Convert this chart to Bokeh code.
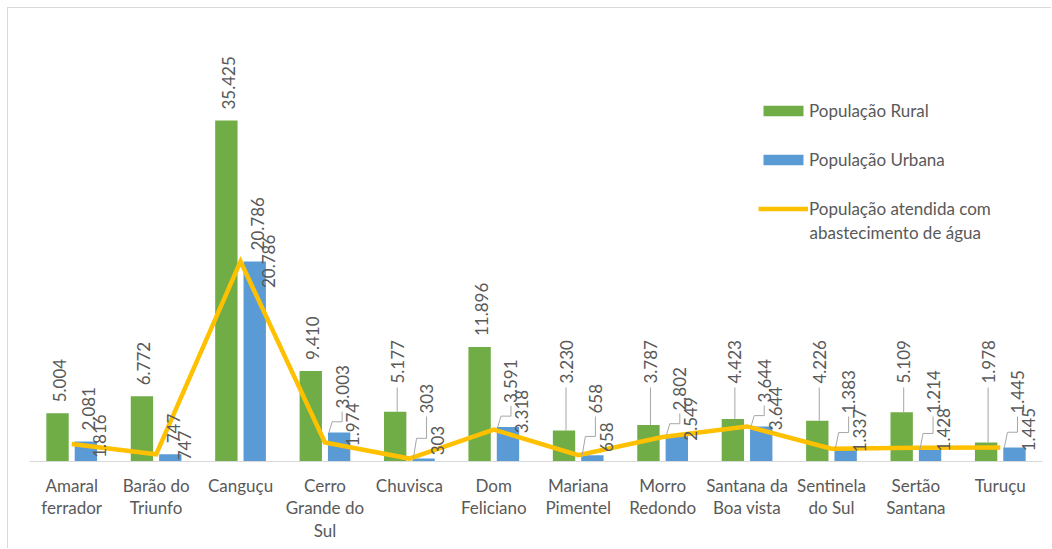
import math
from bokeh.plotting import figure
from bokeh.models import (Range1d, FixedTicker, CustomJSTickFormatter, Legend,
                          LegendItem, Label)
from bokeh.core.properties import value
from bokeh.embed import file_html
from bokeh.resources import INLINE

# ---------------- data ----------------
categories = ["Amaral\nferrador", "Barão do\nTriunfo", "Canguçu", "Cerro\nGrande do\nSul",
              "Chuvisca", "Dom\nFeliciano", "Mariana\nPimentel", "Morro\nRedondo",
              "Santana da\nBoa vista", "Sentinela\ndo Sul", "Sertão\nSantana", "Turuçu"]
rural = [5004, 6772, 35425, 9410, 5177, 11896, 3230, 3787, 4423, 4226, 5109, 1978]
urbana = [2081, 747, 20786, 3003, 303, 3591, 658, 2802, 3644, 1383, 1214, 1445]
atendida = [1816, 747, 20786, 1974, 303, 3318, 658, 2549, 3644, 1337, 1428, 1445]
series_names = ["População Rural", "População Urbana", "População atendida com",
                "abastecimento de água"]

# layout only: which groups have their data labels lifted away from the marks
label_raised = [False, False, False, True, True, True, True, True, True, True, True, True]

# ---------------- layout / style ----------------
OFF = 8                      # css offset of the chart box (border at 7px)
W, H = 1052 - OFF, 549 - OFF
LEFT, RIGHT, TOP, BOTTOM = 29 - OFF, 10, 20 - OFF, 88
FRAME_W = W - LEFT - RIGHT
FRAME_H = H - TOP - BOTTOM
PX_PER_UNIT = 0.009626
Y_MAX = FRAME_H / PX_PER_UNIT
N = len(categories)
CAT_PX = FRAME_W / N

GREEN, BLUE, YELLOW = "#70AD47", "#5B9BD5", "#FFC000"
TXT = "#595959"
LEADER = "#A6A6A6"
FONT = "Lato"
LBL_SIZE = 17
CHAR_PX = 0.55 * LBL_SIZE
DODGE = 0.168
BAR_W = 0.265


def px_x(px):
    return px / CAT_PX


def px_y(px):
    return px / PX_PER_UNIT


def fmt(v):
    return f"{v:,}".replace(",", ".")


centers = [i + 0.5 for i in range(N)]
x_rural = [c - DODGE for c in centers]
x_urb = [c + DODGE for c in centers]

p = figure(width=W, height=H, x_range=Range1d(0, N), y_range=Range1d(0, Y_MAX),
           output_backend="svg", toolbar_location=None, y_axis_location=None,
           min_border_left=LEFT, min_border_right=RIGHT,
           min_border_top=TOP, min_border_bottom=BOTTOM)
p.styles = {"margin-left": "7px", "margin-top": "7px",
            "border-left": "1px solid #D9D9D9", "border-top": "1px solid #D9D9D9"}
p.outline_line_color = None
p.xgrid.visible = False
p.ygrid.visible = False
p.background_fill_color = "white"
p.border_fill_color = "white"

ax = p.xaxis[0]
ax.ticker = FixedTicker(ticks=centers)
ax.formatter = CustomJSTickFormatter(args=dict(labels=categories),
                                     code="return labels[Math.round(tick - 0.5)];")
ax.axis_line_color = "#D9D9D9"
ax.axis_line_width = 1.2
ax.major_tick_line_color = None
ax.minor_tick_line_color = None
ax.major_label_standoff = 7
ax.major_label_text_font = FONT
ax.major_label_text_font_size = "17px"
ax.major_label_text_color = TXT
ax.major_label_text_line_height = 1.08

# bars + line
r_rural = p.vbar(x=x_rural, top=rural, width=BAR_W, fill_color=GREEN, line_color=None)
r_urb = p.vbar(x=x_urb, top=urbana, width=BAR_W, fill_color=BLUE, line_color=None)
r_line = p.line(x=centers, y=atendida, line_color=YELLOW, line_width=4.5, line_join="miter")

# ---------------- data labels ----------------
lbl_kw = dict(angle=math.pi / 2, text_font=value(FONT), text_font_size=value(f"{LBL_SIZE}px"),
              text_color=TXT, text_baseline="middle")

# rural labels
g_x, g_y, g_t = [], [], []
seg_x0, seg_y0, seg_x1, seg_y1 = [], [], [], []
for xr, v, up in zip(x_rural, rural, label_raised):
    lb = v + px_y(11)
    if up:
        lb = max(lb, px_y(78))
    lx = xr + px_x(2)
    g_x.append(lx); g_y.append(lb); g_t.append(fmt(v))
    if (lb - v) * PX_PER_UNIT > 18:
        seg_x0.append(lx); seg_y0.append(v); seg_x1.append(lx); seg_y1.append(lb - px_y(4))

# urban labels
u_x, u_y, u_t = [], [], []
ml_xs, ml_ys = [], []
for xu, v, up in zip(x_urb, urbana, label_raised):
    lb = v + px_y(11)
    if up:
        lb = max(v + px_y(24), px_y(48))
    lx = xu + px_x(3)
    u_x.append(lx); u_y.append(lb); u_t.append(fmt(v))
    if (lb - v) * PX_PER_UNIT > 20:
        ye = v + 0.45 * (lb - v)
        ml_xs.append([lx, lx, lx - px_x(10), xu - BAR_W / 2 + px_x(1)])
        ml_ys.append([lb - px_y(3), ye, ye, v])

# line labels (centred on the point, kept above the axis line)
l_x, l_y, l_t = [], [], []
for c, v, up in zip(centers, atendida, label_raised):
    lift = 18 if up else 0
    t = fmt(v)
    ctr = max(v + px_y(lift), px_y(len(t) * CHAR_PX / 2 + 2))
    l_x.append(c + px_x(28)); l_y.append(ctr); l_t.append(t)

p.segment(x0=seg_x0, y0=seg_y0, x1=seg_x1, y1=seg_y1, line_color=LEADER, line_width=1)
p.multi_line(xs=ml_xs, ys=ml_ys, line_color=LEADER, line_width=1)

p.text(x=g_x, y=g_y, text=g_t, text_align="left", **lbl_kw)
p.text(x=u_x, y=u_y, text=u_t, text_align="left", **lbl_kw)
p.text(x=l_x, y=l_y, text=l_t, text_align="center", **lbl_kw)

# ---------------- legend ----------------
LEG_X, LEG_Y = 729, 242
legend = Legend(items=[LegendItem(label=series_names[0], renderers=[r_rural]),
                       LegendItem(label=series_names[1], renderers=[r_urb]),
                       LegendItem(label=series_names[2], renderers=[r_line])],
                location=(LEG_X, LEG_Y), orientation="vertical",
                glyph_width=50, glyph_height=13, label_standoff=1, spacing=28,
                padding=0, margin=0, border_line_color=None, background_fill_alpha=0,
                label_text_font=FONT, label_text_font_size="17px",
                label_text_color=TXT)
p.add_layout(legend)
p.add_layout(Label(x=LEG_X + 51, y=LEG_Y - 13, x_units="screen", y_units="screen",
                   text=series_names[3], text_font=FONT, text_font_size="17px",
                   text_color=TXT, text_baseline="middle", text_align="left"))

open("out.html", "w").write(file_html(p, INLINE))
